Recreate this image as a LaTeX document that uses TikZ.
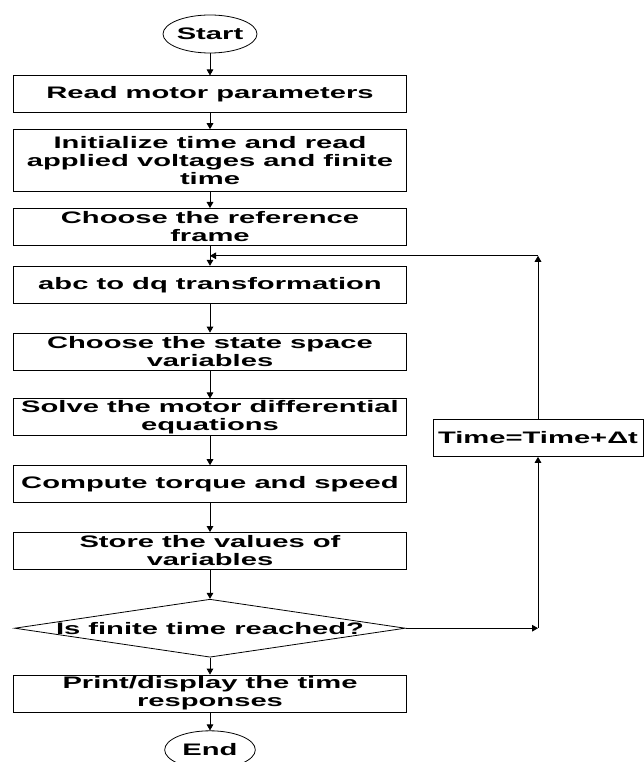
\documentclass[tikz,border=0pt]{standalone}
\usepackage{fontspec}
\setmainfont{Liberation Sans}
\newfontfamily\flowfont{Liberation Sans}[FakeStretch=1.75]
\usetikzlibrary{positioning,arrows.meta,shapes.geometric}

\begin{document}
\begin{tikzpicture}[
node distance=21.75pt,
every node/.style={font=\flowfont\bfseries\fontsize{12.5pt}{13.5pt}\selectfont},
box/.style={rectangle,draw,line width=0.6pt,minimum width=294.75pt,
minimum height=27.75pt,inner xsep=2pt,inner ysep=1pt,align=center},
term/.style={ellipse,draw,line width=0.6pt,minimum width=68pt,minimum height=28.5pt,inner sep=0pt},
decision/.style={diamond,draw,line width=0.6pt,minimum width=293pt,minimum height=43.5pt,inner sep=0pt},
arrow/.style={-{Triangle[length=4.5pt,width=5pt]},line width=0.6pt}
]
\useasboundingbox (-157.5pt,25.5pt) rectangle (324.75pt,-546pt);
\node[term] (start) at (0,0) {Start};
\node[box,below=16.5pt of start] (read) {Read motor parameters};
\node[box,below=12pt of read,minimum height=46.5pt] (init) {Initialize time and read\\applied voltages and finite\\time};
\node[box,below=12pt of init] (frame) {Choose the reference\\frame};
\node[box,below=15pt of frame] (abc) {abc to dq transformation};
\node[box,below=of abc] (state) {Choose the state space\\variables};
\node[box,below=21pt of state] (solve) {Solve the motor differential\\equations};
\node[box,below=of solve] (torque) {Compute torque and speed};
\node[box,below=of torque] (store) {Store the values of\\variables};
\node[decision,below=of store] (dec) {\makebox[0pt]{Is finite time reached?}};
\node[box,below=12.75pt of dec] (print) {Print/display the time\\responses};
\node[term,below=13.5pt of print] (end) {End};
\node[box,minimum width=157.5pt] (incr) at (246pt,-303pt) {Time=Time+Δt};
\draw[arrow] (start)--(read); \draw[arrow] (read)--(init); \draw[arrow] (init)--(frame);
\draw[arrow] (frame)--(abc); \draw[arrow] (abc)--(state); \draw[arrow] (state)--(solve);
\draw[arrow] (solve)--(torque); \draw[arrow] (torque)--(store); \draw[arrow] (store)--(dec);
\draw[arrow] (dec)--(print); \draw[arrow] (print)--(end);
% loop back through the time step
\path (frame.south) -- (abc.north) coordinate[midway] (back);
\coordinate (rc) at (incr.south |- dec.east);
\coordinate (tc) at (incr.north |- back);
\draw[arrow] (dec.east)--(rc); \draw[arrow] (rc)--(incr.south);
\draw[arrow] (incr.north)--(tc); \draw[arrow] (tc)--(back);
\end{tikzpicture}
\end{document}
